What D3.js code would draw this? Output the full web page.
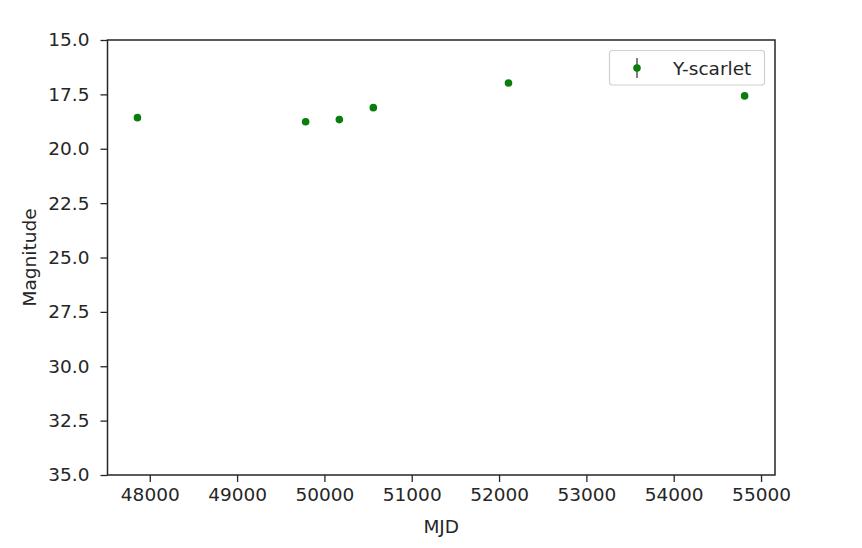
<!DOCTYPE html>
<html><head><meta charset="utf-8">
<script src="https://cdn.jsdelivr.net/npm/d3@7"></script>
<style>body{margin:0;background:#fff}svg{font-family:"DejaVu Sans",sans-serif}</style>
</head><body>
<svg id="c" width="862" height="548"></svg>
<script>
const mjd = [47859, 49785, 50171, 50560, 52108, 54812];
const mag = [18.57, 18.76, 18.66, 18.11, 16.98, 17.57];
const magErr = [0.05, 0.05, 0.05, 0.05, 0.05, 0.05];
const seriesName = "Y-scarlet";
const xTicks = [48000, 49000, 50000, 51000, 52000, 53000, 54000, 55000];
const yTicks = [15.0, 17.5, 20.0, 22.5, 25.0, 27.5, 30.0, 32.5, 35.0];

const svg = d3.select("#c");
const L = 107.5, R = 775, T = 40, B = 475;
const x = d3.scaleLinear().domain([47516, 55160]).range([L, R]);
const y = d3.scaleLinear().domain([15, 35]).range([T, B]);
const col = "#0a7d0a";
const txt = "#262626";
const fs = "18.5px";

const gx = svg.append("g").attr("transform", `translate(0,${B})`)
  .call(d3.axisBottom(x).tickValues(xTicks).tickSize(7).tickPadding(6).tickFormat(d3.format("d")));
const gy = svg.append("g").attr("transform", `translate(${L},0)`)
  .call(d3.axisLeft(y).tickValues(yTicks).tickSize(7).tickPadding(11).tickFormat(d3.format(".1f")));
[gx, gy].forEach(g => {
  g.attr("font-family", null).attr("font-size", null);
  g.select(".domain").remove();
  g.selectAll("line").attr("stroke", txt).attr("stroke-width", 1.3);
  g.selectAll("text").attr("fill", txt).style("font-size", fs);
});
svg.append("rect").attr("x", L).attr("y", T).attr("width", R - L).attr("height", B - T)
  .attr("fill", "none").attr("stroke", txt).attr("stroke-width", 1.5);

svg.append("text").attr("x", (L + R) / 2).attr("y", 533).attr("text-anchor", "middle")
  .attr("fill", txt).style("font-size", fs).text("MJD");
svg.append("text").attr("transform", `translate(36,${(T + B) / 2}) rotate(-90)`)
  .attr("text-anchor", "middle").attr("fill", txt).style("font-size", fs).text("Magnitude");

const pts = svg.append("g");
mjd.forEach((m, i) => {
  pts.append("line").attr("x1", x(m)).attr("x2", x(m))
    .attr("y1", y(mag[i] - magErr[i])).attr("y2", y(mag[i] + magErr[i]))
    .attr("stroke", col).attr("stroke-width", 1.5);
  pts.append("circle").attr("cx", x(m)).attr("cy", y(mag[i])).attr("r", 3.8).attr("fill", col);
});

const lg = svg.append("g");
lg.append("rect").attr("x", 609.5).attr("y", 50.5).attr("width", 155).attr("height", 34.5).attr("rx", 3)
  .attr("fill", "#fff").attr("fill-opacity", 0.8).attr("stroke", "#d0d0d0").attr("stroke-width", 1.2);
lg.append("line").attr("x1", 637).attr("x2", 637).attr("y1", 58).attr("y2", 78)
  .attr("stroke", "#555").attr("stroke-width", 1.5);
lg.append("circle").attr("cx", 637).attr("cy", 68).attr("r", 3.8).attr("fill", col);
lg.append("text").attr("x", 673).attr("y", 74.5).attr("fill", txt).style("font-size", fs).text(seriesName);
</script>
</body></html>
